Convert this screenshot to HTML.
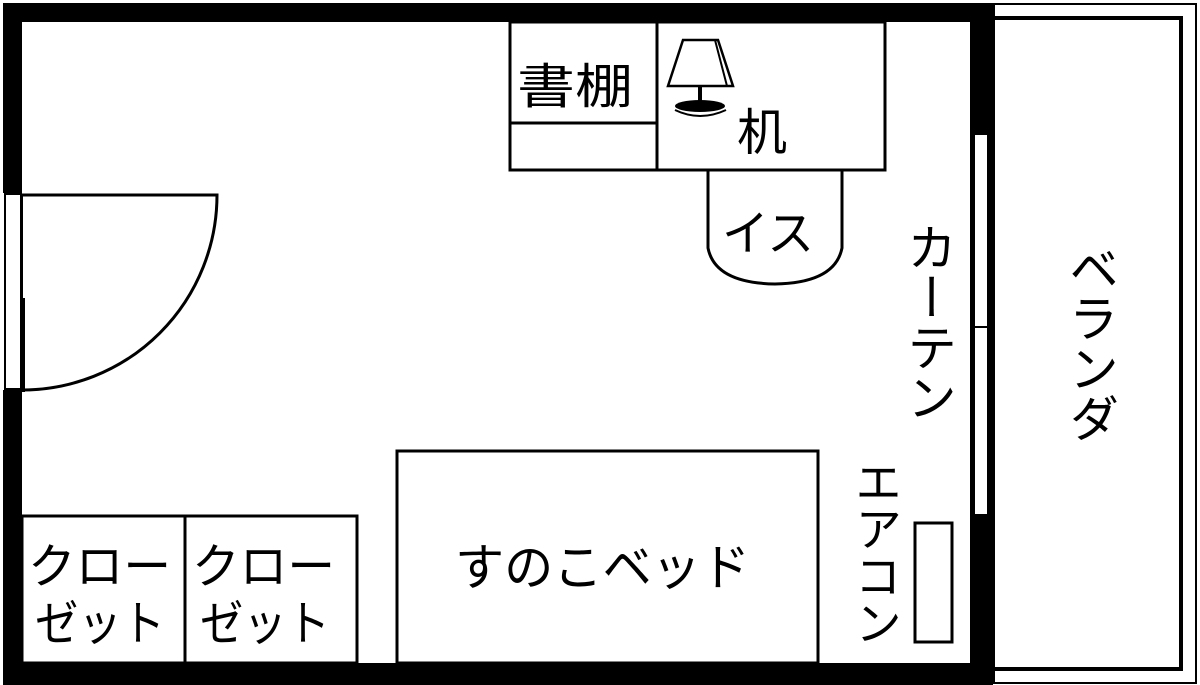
<!DOCTYPE html>
<html><head><meta charset="utf-8"><style>
html,body{margin:0;padding:0;background:#fff;}
body{width:1200px;height:685px;position:relative;overflow:hidden;font-family:"Liberation Sans","Noto Sans CJK JP",sans-serif;}
svg{position:absolute;left:0;top:0;}
.v{position:absolute;writing-mode:vertical-rl;font-size:50px;line-height:1;color:#000;font-family:"Liberation Sans","Noto Sans CJK JP",sans-serif;}
</style></head><body>
<svg width="1200" height="685" viewBox="0 0 1200 685">
<g fill="none" stroke="#000">
<rect x="3" y="3" width="990" height="682" fill="#000" stroke="none"/>
<rect x="22" y="22" width="948" height="641" fill="#fff" stroke="none"/>
<rect x="3" y="193" width="19" height="197" fill="#fff" stroke="none"/>
<rect x="5" y="194" width="16" height="195" fill="#fff" stroke="#000" stroke-width="2"/>
<path d="M22 195 H217 A195 195 0 0 1 22 390" stroke-width="3"/>
<line x1="22" y1="195" x2="22" y2="300" stroke-width="2"/>
<line x1="23" y1="298" x2="23" y2="392" stroke-width="4"/>
<rect x="974" y="134" width="14" height="381" fill="#fff" stroke="#000" stroke-width="2"/>
<line x1="974" y1="327" x2="988" y2="327" stroke-width="2"/>
<rect x="994" y="4" width="202" height="679" stroke-width="2"/>
<rect x="993" y="18" width="188" height="651" stroke-width="4"/>
<rect x="510" y="22" width="147" height="148" stroke-width="3"/>
<line x1="510" y1="123" x2="657" y2="123" stroke-width="3"/>
<rect x="657" y="22" width="228" height="148" stroke-width="3"/>
<path d="M708 170 V248 Q715 283 775 284 Q835 283 842 248 V170" stroke-width="3"/>
<path d="M683 40 H718 L733 86 H668 Z" stroke-width="2.5"/>
<line x1="715" y1="40" x2="727" y2="86" stroke-width="2"/>
<rect x="698" y="86" width="4" height="17" fill="#000" stroke="none"/>
<ellipse cx="700" cy="106" rx="25" ry="6" fill="#000" stroke="none"/>
<path d="M675 110 Q700 122 726 110" stroke-width="2"/>
<rect x="397" y="451" width="421" height="212" stroke-width="3"/>
<rect x="22" y="516" width="163" height="147" stroke-width="3"/>
<rect x="185" y="516" width="172" height="147" stroke-width="3"/>
<rect x="915" y="523" width="37" height="119" stroke-width="3"/>
</g>
<g font-family="Liberation Sans, Noto Sans CJK JP, sans-serif" font-size="48" fill="#000">
<text x="517" y="103" textLength="116" lengthAdjust="spacingAndGlyphs">書棚</text>
<text x="737" y="150" font-size="50">机</text>
<text x="722" y="250" textLength="92" lengthAdjust="spacingAndGlyphs">イス</text>
<text x="455" y="585" font-size="50" textLength="295" lengthAdjust="spacingAndGlyphs">すのこベッド</text>
<text x="28" y="583" textLength="143" lengthAdjust="spacingAndGlyphs">クロー</text>
<text x="35" y="640" textLength="130" lengthAdjust="spacingAndGlyphs">ゼット</text>
<text x="192" y="583" textLength="143" lengthAdjust="spacingAndGlyphs">クロー</text>
<text x="200" y="640" textLength="130" lengthAdjust="spacingAndGlyphs">ゼット</text>
</g>
</svg>
<div class="v" style="left:903px;top:222px;">カーテン</div>
<div class="v" style="left:1065px;top:243px;">ベランダ</div>
<div class="v" style="left:851px;top:458px;font-size:47px;">エアコン</div>
</body></html>
